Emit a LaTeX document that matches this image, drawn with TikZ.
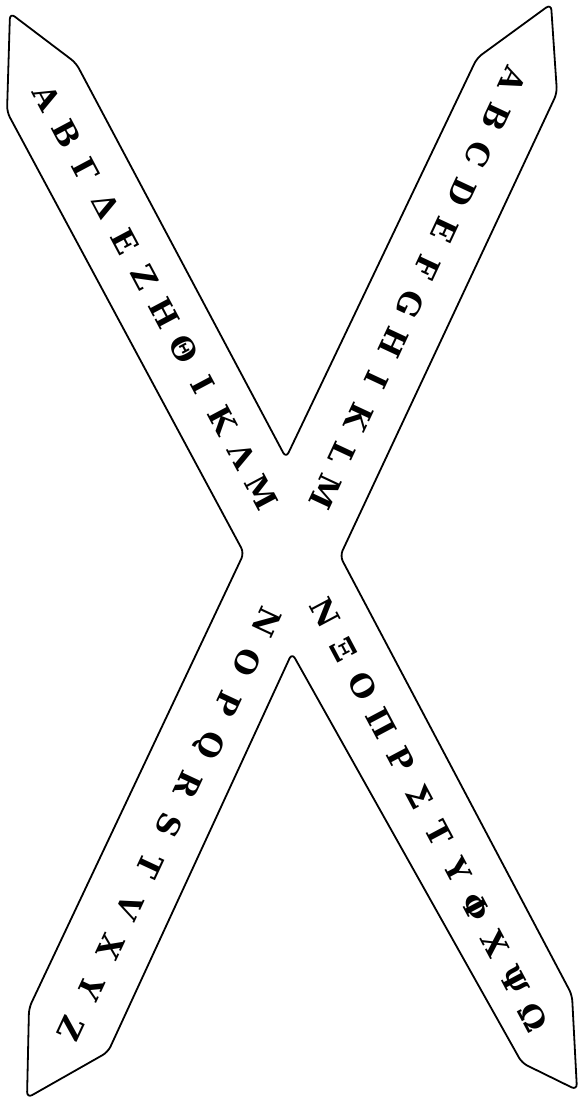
\documentclass[tikz,border=0pt]{standalone}
\usepackage{fontspec}
\setmainfont{DejaVu Serif}
\usepackage{tikz}
\usetikzlibrary{calc}

\begin{document}
\begin{tikzpicture}[
    x=1pt, y=-1pt,
    band/.style={draw, line width=1.8pt, line join=round, rounded corners=6pt},
    glyph/.style={font=\fontsize{31}{34}\selectfont\bfseries, inner sep=0pt},
]
\useasboundingbox (0,0) rectangle (578,1101);

% --- Outline of the two crossed bands ---
\draw[band] (10,13) -- (76,63) -- (286,458) -- (477,58) -- (551,4)
    -- (557,93) -- (340,556) -- (572,995) -- (577,1090) -- (522,1063)
    -- (292,653) -- (108,1052) -- (27,1098) -- (29,1008) -- (244,553)
    -- (7,112) -- cycle;

% --- Greek, upper left arm ---
\coordinate (grA) at (47,98);
\coordinate (grM) at (262,492);
\foreach \ch [count=\i from 0] in {Α,Β,Γ,Δ,Ε,Ζ,Η,Θ,Ι,Κ,Λ,Μ}
    \node[glyph, rotate=-62] (gru\i) at ($(grA)!{\i/11}!(grM)$) {\ch};

% --- Greek, lower right arm ---
\coordinate (grN) at (325,613);
\coordinate (grW) at (533,1017);
\foreach \ch [count=\i from 0] in {Ν,Ξ,Ο,Π,Ρ,Σ,Τ,Υ,Φ,Χ,Ψ,Ω}
    \node[glyph, rotate=-62] (grl\i) at ($(grN)!{\i/11}!(grW)$) {\ch};

% --- Latin, upper right arm ---
\coordinate (laA) at (513,80);
\coordinate (laM) at (325,492);
\foreach \ch [count=\i from 0] in {A,B,C,D,E,F,G,H,I,K,L,M}
    \node[glyph, rotate=-115] (lau\i) at ($(laA)!{\i/11}!(laM)$) {\ch};

% --- Latin, lower left arm ---
\coordinate (laN) at (267,622);
\coordinate (laZ) at (71,1029);
\foreach \ch [count=\i from 0] in {N,O,P,Q,R,S,T,V,X,Y,Z}
    \node[glyph, rotate=-115] (lal\i) at ($(laN)!{\i/10}!(laZ)$) {\ch};

\end{tikzpicture}
\end{document}
